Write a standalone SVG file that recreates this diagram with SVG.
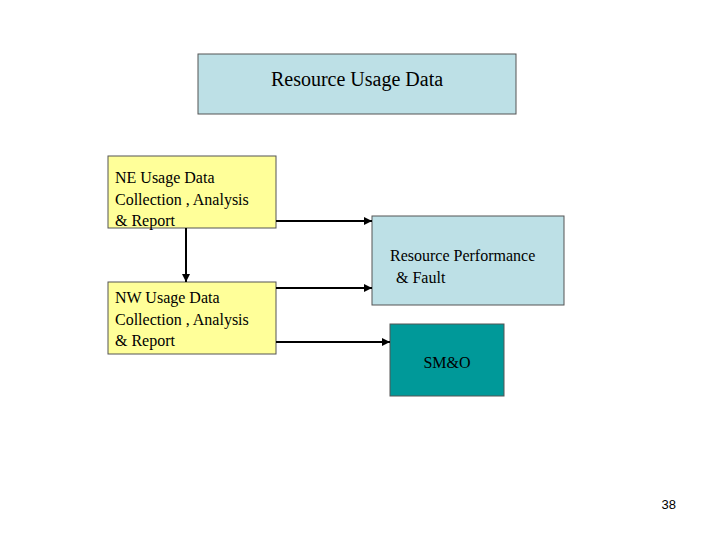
<svg xmlns="http://www.w3.org/2000/svg" width="720" height="540" viewBox="0 0 720 540">
<style>
text{font-family:"Liberation Serif",serif;font-size:16px;fill:#000}
.b{stroke:#555;stroke-width:1}
.c{stroke:#000;stroke-width:2;fill:none;marker-end:url(#a)}
</style>
<defs><marker id="a" viewBox="0 0 10 10" refX="10" refY="5" markerWidth="4" markerHeight="4" orient="auto"><path d="M0,0L10,5L0,10z" fill="#000"/></marker></defs>
<rect width="720" height="540" fill="#fff"/>
<g id="top"><rect class="b" x="198" y="54" width="318" height="60" fill="#bde0e6"/><text x="357" y="86" text-anchor="middle" font-size="20" style="font-size:20px">Resource Usage Data</text></g>
<g id="ne"><rect class="b" x="108" y="156" width="168" height="72" fill="#ffff99"/><text x="115" y="183">NE Usage Data</text><text x="115" y="205">Collection , Analysis</text><text x="115" y="226">&amp; Report</text></g>
<g id="nw"><rect class="b" x="108" y="282" width="168" height="72" fill="#ffff99"/><text x="115" y="303">NW Usage Data</text><text x="115" y="325">Collection , Analysis</text><text x="115" y="346"> &amp; Report</text></g>
<g id="rpf"><rect class="b" x="372" y="216" width="192" height="89" fill="#bde0e6"/><text x="390" y="261">Resource Performance</text><text x="396" y="283">&amp; Fault</text></g>
<g id="smo"><rect class="b" x="390" y="324" width="114" height="72" fill="#009999"/><text x="447" y="368" text-anchor="middle">SM&amp;O</text></g>
<g id="connectors">
<path class="c" d="M276,221H372"/>
<path class="c" d="M186,228V282"/>
<path class="c" d="M276,288H372"/>
<path class="c" d="M276,342H390"/>
</g>
<text x="676" y="509" text-anchor="end" style="font-family:'Liberation Sans',sans-serif;font-size:13px">38</text>
</svg>
